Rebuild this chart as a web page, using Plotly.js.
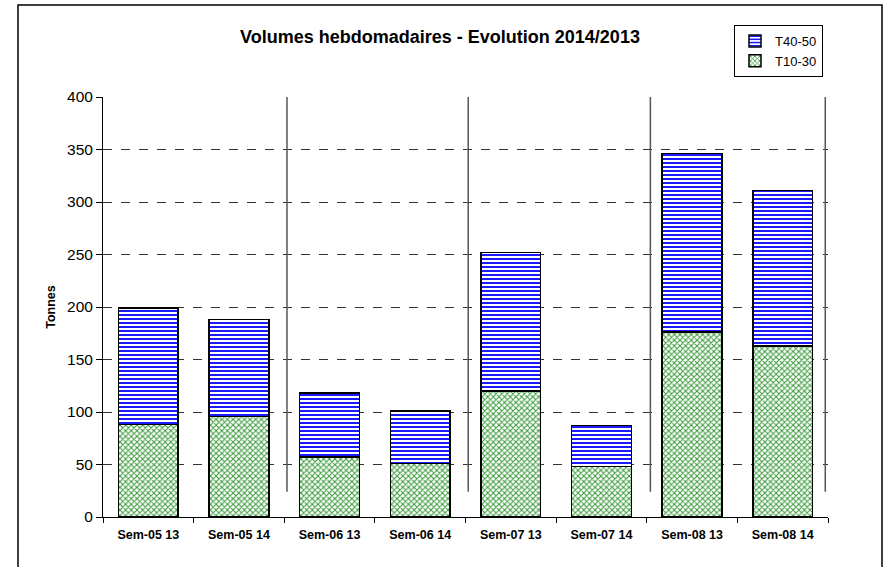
<!DOCTYPE html>
<html>
<head>
<meta charset="utf-8">
<script src="https://cdn.plot.ly/plotly-3.0.1.min.js"></script>
<style>html,body{margin:0;padding:0;background:#fff;}#chart{width:888px;height:567px;}</style>
</head>
<body>
<div id="chart"></div>
<script>
const categories = ["Sem-05 13","Sem-05 14","Sem-06 13","Sem-06 14","Sem-07 13","Sem-07 14","Sem-08 13","Sem-08 14"];
const t1030 = [88, 95.5, 57, 51, 120, 48, 176, 163];
const t4050 = [111, 92.5, 61, 50, 132, 39, 170, 148];
const separatorsX = [1.53, 3.53, 5.54, 7.47];
const yTicks = [0, 50, 100, 150, 200, 250, 300, 350, 400];

const traces = [
  {
    type: "bar", name: "T10-30", x: categories, y: t1030,
    marker: {color: "#ffffff", line: {color: "#000", width: 1.5},
      pattern: {shape: "x", fgcolor: "#3a9a3a", bgcolor: "#ffffff", size: 4, solidity: 0.45}},
    width: 0.66
  },
  {
    type: "bar", name: "T40-50", x: categories, y: t4050,
    marker: {color: "#ffffff", line: {color: "#000", width: 1.5},
      pattern: {shape: "-", fgcolor: "#0000ff", bgcolor: "#ffffff", size: 4, solidity: 0.45}},
    width: 0.66
  }
];

const PW = 725, PH = 420;
const shapes = separatorsX.map(x => ({
  type: "line", xref: "x", yref: "y", x0: x, x1: x, y0: 24, y1: 416,
  line: {color: "#555", width: 1.5}
}));
shapes.push({type: "rect", xref: "paper", yref: "paper", x0: (18-103)/PW, x1: (882-103)/PW, y0: -60/PH, y1: (517-5)/PH,
  line: {color: "#000", width: 1.5}, fillcolor: "rgba(0,0,0,0)", layer: "below"});

const layout = {
  width: 888, height: 567,
  margin: {l: 103, r: 60, t: 97, b: 50, autoexpand: false},
  paper_bgcolor: "#fff", plot_bgcolor: "#fff",
  font: {family: "Liberation Sans, Arial, sans-serif", color: "#000", size: 12},
  barmode: "stack",
  showlegend: true,
  title: {text: "<b>Volumes hebdomadaires - Evolution 2014/2013</b>", xref: "container", x: 440/888, xanchor: "center",
    yref: "container", y: 1 - 37/567, yanchor: "middle", font: {size: 18, family: "Liberation Sans, Arial, sans-serif"}},
  legend: {traceorder: "reversed", x: (734-103)/PW, xref: "paper", y: (517-25)/PH, yref: "paper", xanchor: "left", yanchor: "top",
    bordercolor: "#000", borderwidth: 1, bgcolor: "#fff", font: {size: 13}, itemwidth: 30, tracegroupgap: 0},
  xaxis: {
    type: "category", showgrid: false, showline: true, linecolor: "#000", linewidth: 1,
    ticks: "outside", tickson: "boundaries", ticklen: 5, tickcolor: "#000",
    ticklabelstandoff: 6,
    tickfont: {size: 12.5, family: "Liberation Sans, Arial, sans-serif"},
    tickprefix: "<b>", ticksuffix: "</b>", range: [-0.5, 7.5]
  },
  yaxis: {
    range: [0, 400], tickvals: yTicks, showline: true, linecolor: "#000", linewidth: 1,
    ticks: "outside", ticklen: 6, tickcolor: "#000", zeroline: false,
    showgrid: true, gridcolor: "#333", griddash: "dash", gridwidth: 1,
    tickfont: {size: 15.5},
    title: {text: "<b>Tonnes</b>", font: {size: 12.5}, standoff: 8}
  },
  shapes: shapes
};

Plotly.newPlot("chart", traces, layout, {displayModeBar: false, staticPlot: true});
</script>
</body>
</html>
